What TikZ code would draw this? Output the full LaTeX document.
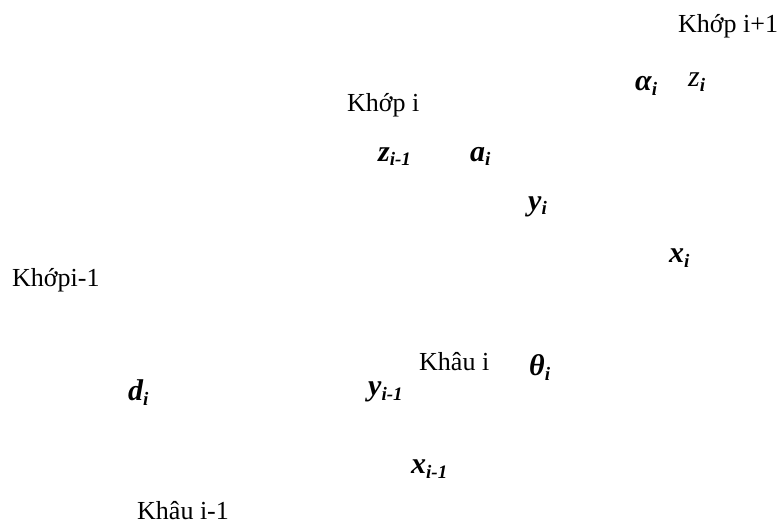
\documentclass[tikz,border=0pt]{standalone}
\usepackage{fontspec}
\setmainfont{Liberation Serif}
\usepackage{tikz}
\usetikzlibrary{positioning}

% bold italic symbol with a lowered index
\newcommand{\symlbl}[2]{{\fontsize{30}{34}\selectfont\bfseries\itshape #1}\raisebox{-5pt}{\fontsize{19}{21}\selectfont\bfseries\itshape #2}}

\begin{document}
\begin{tikzpicture}[
  x=1pt, y=-1pt,
  lab/.style={anchor=base west, inner sep=0pt, font=\fontsize{26}{30}\selectfont},
  sym/.style={anchor=base west, inner sep=0pt}
]
\useasboundingbox (0,0) rectangle (782,524);
% joints and links
\node[lab] (jnext) at (678,33) {Khớp i+1};
\node[lab] (jcur)  at (347,112) {Khớp i};
\node[lab] (jprev) at (12,286) {Khớpi-1};
\node[lab] (lcur)  at (419,370) {Khâu i};
\node[lab] (lprev) at (137,519) {Khâu i-1};
% axes and parameters
\node[sym] (alpha) at (635,91) {\symlbl{α}{i}};
\node[sym] (zi)    at (688,87) {{\fontsize{30}{34}\selectfont\itshape z}\raisebox{-5pt}{\fontsize{19}{21}\selectfont\bfseries\itshape i}};
\node[sym] (zprev) at (378,161) {\symlbl{z}{i-1}};
\node[sym] (ai)    at (470,161) {\symlbl{a}{i}};
\node[sym] (yi)    at (528,210) {\symlbl{y}{i}};
\node[sym] (xi)    at (669,262) {\symlbl{x}{i}};
\node[sym] (theta) at (529,375) {\symlbl{θ}{i}};
\node[sym] (di)    at (128,400) {\symlbl{d}{i}};
\node[sym] (yprev) at (368,395) {\symlbl{y}{i-1}};
\node[sym] (xprev) at (411,473) {\symlbl{x}{i-1}};
\end{tikzpicture}
\end{document}
